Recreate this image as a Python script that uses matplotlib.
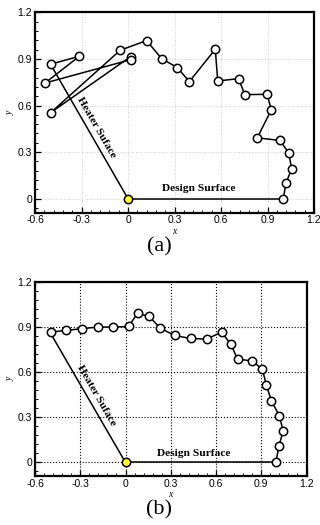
import numpy as np
import matplotlib
matplotlib.use('Agg')
import matplotlib.pyplot as plt
from matplotlib.ticker import MultipleLocator

# shape points, panel (a)
xa = [1.002, 1.019, 1.056, 1.037, 0.981, 0.834, 0.925, 0.897, 0.753, 0.714, 0.579, 0.563,
      0.396, 0.318, 0.217, 0.120, -0.050, -0.499, 0.017, 0.021, -0.535, -0.314, -0.499]
ya = [0.000, 0.100, 0.192, 0.294, 0.375, 0.392, 0.573, 0.672, 0.670, 0.773, 0.758, 0.962,
      0.754, 0.844, 0.902, 1.018, 0.956, 0.554, 0.915, 0.896, 0.745, 0.917, 0.866]

# shape points, panel (b)
xb = [0.997, 1.017, 1.045, 1.020, 0.967, 0.934, 0.907, 0.836, 0.743, 0.699, 0.637, 0.538,
      0.431, 0.325, 0.230, 0.157, 0.080, 0.020, -0.080, -0.184, -0.288, -0.392, -0.496]
yb = [0.000, 0.108, 0.209, 0.312, 0.410, 0.515, 0.623, 0.677, 0.688, 0.786, 0.868, 0.822,
      0.826, 0.846, 0.895, 0.973, 0.993, 0.906, 0.902, 0.902, 0.891, 0.880, 0.868]

heater_x = [-0.5, 0.0]
heater_y = [0.866, 0.0]
design_x = [0.0, 1.0]
design_y = [0.0, 0.0]

xticks = [-0.6, -0.3, 0, 0.3, 0.6, 0.9, 1.2]
yticks = [0, 0.3, 0.6, 0.9, 1.2]
xticklabels = ['-0.6', '-0.3', '0', '0.3', '0.6', '0.9', '1.2']
yticklabels = ['0', '0.3', '0.6', '0.9', '1.2']

sans = 'Liberation Sans'
serif = 'Liberation Serif'

fig = plt.figure(figsize=(3.2, 5.25), dpi=100)
ax1 = fig.add_axes([35/320, 1-212.7/525, 279/320, 200.4/525])
ax2 = fig.add_axes([35/320, 1-476/525, 271.5/320, 193.7/525])


def draw(ax, sx, sy, grid_color, grid_lw, tx, ty, dx, dy):
    ax.set_xlim(-0.6, 1.2)
    ax.set_ylim(-0.09, 1.2)
    ax.grid(True, color=grid_color, linestyle=':', linewidth=grid_lw, zorder=0)
    ax.plot(heater_x, heater_y, color='k', lw=1.1, zorder=2)
    ax.plot(design_x, design_y, color='k', lw=1.1, zorder=2)
    ax.plot(sx, sy, '-o', color='k', lw=1.1, ms=6.0, mfc='white', mec='k', mew=1.1, zorder=3)
    ax.plot([0], [0], 'o', ms=6.0, mfc='#ffff33', mec='k', mew=1.1, zorder=4)
    ax.text(tx, ty, 'Heater Suface', rotation=-60, rotation_mode='anchor', ha='center', va='center',
            fontsize=8.2, fontweight='bold', family=serif)
    ax.text(dx, dy, 'Design Surface', ha='center', va='center', fontsize=8.2,
            fontweight='bold', family=serif)
    ax.set_xticks(xticks)
    ax.set_xticklabels(xticklabels, family=sans, fontsize=7.5)
    ax.set_yticks(yticks)
    ax.set_yticklabels(yticklabels, family=sans, fontsize=7.5)
    ax.xaxis.set_minor_locator(MultipleLocator(0.06))
    ax.yaxis.set_minor_locator(MultipleLocator(0.06))
    ax.tick_params(which='major', direction='in', length=4, width=0.9, pad=2)
    ax.tick_params(which='minor', direction='in', length=2, width=0.7)
    for s in ax.spines.values():
        s.set_linewidth(1.6)
    ax.set_xlabel('x', family=serif, style='italic', fontsize=7, labelpad=1)
    ax.set_ylabel('y', family=serif, style='italic', fontsize=7, labelpad=2)


draw(ax1, xa, ya, '#d0d0d0', 0.7, -0.205, 0.46, 0.456, 0.065)
draw(ax2, xb, yb, 'k', 0.8, -0.195, 0.45, 0.45, 0.063)

fig.text(159/320, 1-247/525, '(a)', ha='center', va='center', fontsize=16, family=serif)
fig.text(159/320, 1-510/525, '(b)', ha='center', va='center', fontsize=16, family=serif)

fig.savefig('out.png', dpi=100)
